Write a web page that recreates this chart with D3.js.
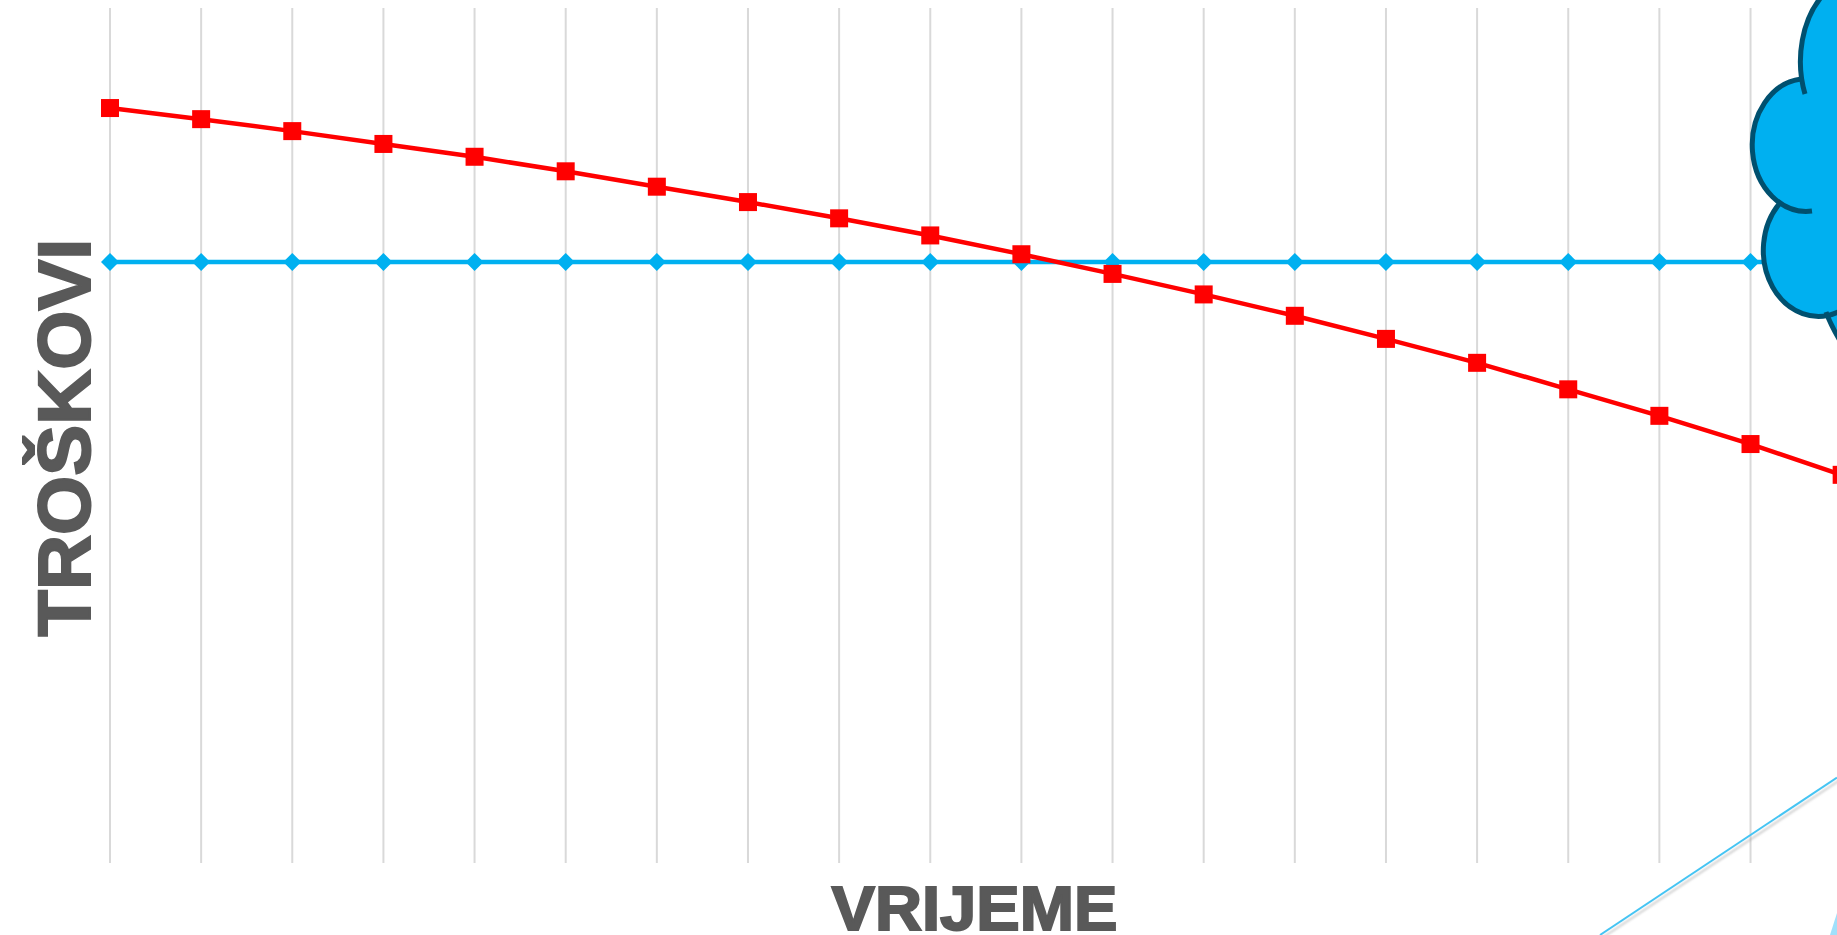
<!DOCTYPE html>
<html>
<head>
<meta charset="utf-8">
<style>
  html, body { margin: 0; padding: 0; background: #fff; overflow: hidden; }
  svg { display: block; }
  .title { font-family: "Liberation Sans", sans-serif; font-weight: bold; fill: #595959; stroke: #595959; stroke-width: 2px; stroke-linejoin: miter; }
</style>
<script src="https://cdn.jsdelivr.net/npm/d3@7"></script>
</head>
<body>
<div id="chart"></div>
<script>
// chart values
var periods = [1, 2, 3, 4, 5, 6, 7, 8, 9, 10, 11, 12, 13, 14, 15, 16, 17, 18, 19, 20];
var constantCost = [70.3, 70.3, 70.3, 70.3, 70.3, 70.3, 70.3, 70.3, 70.3, 70.3, 70.3, 70.3, 70.3, 70.3, 70.3, 70.3, 70.3, 70.3, 70.3, 70.3];
var fallingCost = [88.3, 87.0, 85.6, 84.1, 82.6, 80.9, 79.1, 77.3, 75.4, 73.4, 71.2, 68.9, 66.5, 64.0, 61.3, 58.5, 55.4, 52.3, 49.0, 45.4];
var xTitle = "VRIJEME";
var yTitle = "TROŠKOVI";

var width = 1837, height = 935;
var margin = { top: 8, bottom: 72, left: 110 };
var step = 91.14;

var svg = d3.select("#chart").append("svg")
    .attr("width", width)
    .attr("height", height);

var defs = svg.append("defs");
defs.append("filter").attr("id", "soft")
    .append("feGaussianBlur").attr("stdDeviation", 1.2);

var x = d3.scalePoint()
    .domain(periods)
    .range([margin.left, margin.left + step * (periods.length - 1)]);

var y = d3.scaleLinear()
    .domain([0, 100])
    .range([height - margin.bottom, margin.top]);

// vertical gridlines come from the axis ticks
var grid = svg.append("g")
    .attr("transform", `translate(0, ${height - margin.bottom})`)
    .call(d3.axisBottom(x)
        .offset(0)
        .tickSize(-(height - margin.bottom - margin.top))
        .tickFormat(""));
grid.select(".domain").remove();
grid.selectAll("line")
    .attr("stroke", "#d9d9d9")
    .attr("stroke-width", 2);

var line = d3.line()
    .x((d, i) => x(periods[i]))
    .y(d => y(d));

// blue series
svg.append("path")
    .datum(constantCost)
    .attr("d", line)
    .attr("fill", "none")
    .attr("stroke", "#00b0f0")
    .attr("stroke-width", 4.5);

svg.append("g").selectAll("path")
    .data(constantCost)
    .enter()
    .append("path")
    .attr("d", d3.symbol(d3.symbolSquare, 162))
    .attr("transform", (d, i) => `translate(${x(periods[i])}, ${y(d)}) rotate(45)`)
    .attr("fill", "#00b0f0");

// red series
svg.append("path")
    .datum(fallingCost)
    .attr("d", line)
    .attr("fill", "none")
    .attr("stroke", "#ff0000")
    .attr("stroke-width", 4.5);

svg.append("g").selectAll("rect")
    .data(fallingCost)
    .enter()
    .append("rect")
    .attr("x", (d, i) => x(periods[i]) - 9)
    .attr("y", d => y(d) - 9)
    .attr("width", 18)
    .attr("height", 18)
    .attr("fill", "#ff0000");

// cloud callout, cut off by the right edge of the page
var cloudStroke = "#00506f";
svg.append("path")
    .attr("d", "M1826,312 Q1831,326 1842,344 L1845,312 Z")
    .attr("fill", "#00b0f0");
svg.append("path")
    .attr("d", "M1823,-5 A60,85 0 0 0 1801,79 A54,66 0 0 0 1780,203 A55,66 0 0 0 1840,311 L1845,311 L1845,-5 Z")
    .attr("fill", "#00b0f0");
["M1823,-5 A60,85 0 0 0 1805,94",
 "M1801,79 A54,66 0 0 0 1812,211",
 "M1780,203 A55,66 0 0 0 1840,311",
 "M1826,312 Q1831,326 1842,344"].forEach(function(d) {
    svg.append("path")
        .attr("d", d)
        .attr("fill", "none")
        .attr("stroke", cloudStroke)
        .attr("stroke-width", 5);
});

// thin callout line and the corner of the shape below it
svg.append("line")
    .attr("x1", 1602).attr("y1", 938).attr("x2", 1840).attr("y2", 780)
    .attr("stroke", "#a6a6a6").attr("stroke-width", 2)
    .attr("opacity", 0.55)
    .attr("filter", "url(#soft)");
svg.append("line")
    .attr("x1", 1600).attr("y1", 935).attr("x2", 1837).attr("y2", 777.5)
    .attr("stroke", "#45c4f3").attr("stroke-width", 2);
svg.append("path")
    .attr("d", "M1837,913 L1830,935 L1837,935 Z")
    .attr("fill", "#a0e0fb");

// axis titles, stretched a little along their length to fit
function addTitle(label, fontSize, length, place) {
    var t = svg.append("text")
        .attr("class", "title")
        .attr("text-anchor", "middle")
        .style("font-size", fontSize + "px")
        .text(label);
    var stretch = length / t.node().getComputedTextLength();
    t.attr("transform", `${place} scale(${stretch}, 1)`);
}

addTitle(xTitle, 63, 286, "translate(974.5, 930)");
addTitle(yTitle, 74, 398, "translate(89.5, 437.5) rotate(-90)");
</script>
</body>
</html>
